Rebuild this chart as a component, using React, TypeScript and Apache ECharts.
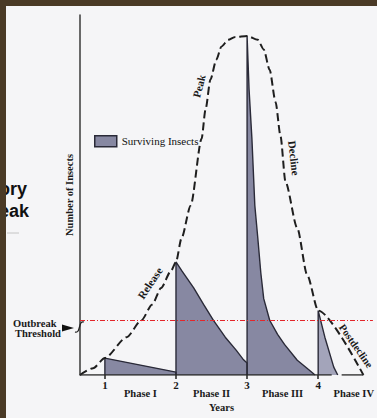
import React, { useEffect, useRef } from "react";
import * as echarts from "echarts";

// ---- data ----
const yearTicks = [1, 2, 3, 4];
const phaseCenters = [1.5, 2.5, 3.5, 4.5];
const phaseNames = ["Phase I", "Phase II", "Phase III", "Phase IV"];
const outbreakThreshold = 15.2;

// population trend (dashed curve): Release, Peak, Decline, Postdecline
const popX = [0.65, 0.834, 1.0, 1.306, 1.514, 1.666, 1.791, 1.93, 2.0, 2.078, 2.207, 2.36, 2.416, 2.485, 2.568, 2.638, 2.735, 2.832, 3.0, 3.151, 3.234, 3.317, 3.401, 3.47, 3.54, 3.706, 3.845, 4.0, 4.636];
const popY = [0, 1.9, 4.7, 10.5, 15.2, 19.6, 24.2, 28.9, 31.4, 38.0, 47.1, 65.6, 73.8, 82.1, 87.6, 91.2, 93.1, 93.9, 94.2, 93.1, 90.4, 84.8, 75.8, 66.4, 53.7, 40.8, 27.8, 17.9, 0];

// surviving insects, per phase
const phase1X = [1, 1, 2, 2];
const phase1Y = [0, 4.7, 0.8, 0];
const phase2X = [2, 2, 2.083, 2.249, 2.388, 2.527, 2.693, 2.846, 2.943, 3, 3];
const phase2Y = [0, 31.4, 28.9, 24.2, 19.6, 15.2, 10.5, 6.9, 4.4, 3.3, 0];
const phase3X = [3, 3, 3.028, 3.068, 3.109, 3.151, 3.193, 3.234, 3.318, 3.429, 3.526, 3.706, 3.873, 3.956];
const phase3Y = [0, 94.2, 79.3, 65.6, 47.1, 38.0, 28.4, 21.2, 15.2, 11.3, 8.5, 4.1, 1.4, 0];
const phase4X = [4, 4, 4.094, 4.219, 4.275];
const phase4Y = [0, 17.9, 10.5, 2.2, 0];

// baseline segments
const baseX = [0.65, 4.19, 4.26, 4.33, 4.636];
const baseY: (number | string)[] = [0, 0, "-", 0, 0];

const zip = (xs: number[], ys: (number | string)[]) => xs.map((x, i) => [x, ys[i]]);

export default function App() {
  const ref = useRef<HTMLDivElement>(null);
  useEffect(() => {
    document.body.style.margin = "0";
    const chart = echarts.init(ref.current!, null, { renderer: "svg" });
    const serif = "Liberation Serif";
    const ink = "#1a1a1a";
    const shadeFill = "#8788a2";
    const shade = (data: any[], color: string) => ({
      type: "line",
      name: "Surviving Insects",
      data,
      symbol: "none",
      showSymbol: false,
      smooth: false,
      silent: true,
      z: 2,
      lineStyle: { color: "#2a2a38", width: 1.4 },
      itemStyle: { color },
      areaStyle: { color, opacity: 1 },
    });
    const txt = (text: string, x: number, y: number, deg: number, size: number, align = "center") => ({
      type: "text",
      x,
      y,
      rotation: (deg * Math.PI) / 180,
      silent: true,
      z: 50,
      style: {
        text,
        fill: ink,
        fontFamily: serif,
        fontWeight: "bold",
        fontSize: size,
        align,
        textAlign: align,
        verticalAlign: "middle",
        textVerticalAlign: "middle",
      },
    });
    const option: any = {
      animation: false,
      backgroundColor: "#f5f5f7",
      grid: { left: 80, top: 15, width: 297, height: 363 },
      legend: {
        data: ["Surviving Insects"],
        left: 89,
        top: 130,
        icon: "rect",
        itemWidth: 22,
        itemHeight: 11,
        selectedMode: false,
        itemStyle: { color: shadeFill, borderColor: "#2a2a38", borderWidth: 1.5 },
        textStyle: { fontFamily: serif, fontSize: 11, color: "#111" },
      },
      xAxis: [
        {
          type: "value",
          min: 0.65,
          max: 4.77,
          axisLine: { show: false },
          splitLine: { show: false },
          axisTick: { show: true, customValues: yearTicks, length: 4, lineStyle: { color: "#222", width: 1.5 } },
          axisLabel: {
            customValues: yearTicks,
            margin: 4,
            fontFamily: serif,
            fontWeight: "bold",
            fontSize: 11,
            color: ink,
            formatter: (v: number) => String(v),
          },
          name: "Years",
          nameLocation: "middle",
          nameGap: 27,
          nameTextStyle: { fontFamily: serif, fontWeight: "bold", fontSize: 10.5, color: ink, padding: [0, 10, 0, 0] },
        },
        {
          type: "value",
          min: 0.65,
          max: 4.77,
          position: "bottom",
          axisLine: { show: false },
          axisTick: { show: false },
          splitLine: { show: false },
          axisLabel: {
            customValues: phaseCenters,
            margin: 13,
            fontFamily: serif,
            fontWeight: "bold",
            fontSize: 10.5,
            color: ink,
            formatter: (v: number) => phaseNames[Math.round(v - 1.5)] ?? "",
          },
        },
      ],
      yAxis: {
        type: "value",
        min: 0,
        max: 100,
        axisLine: { show: true, lineStyle: { color: "#3a3a3a", width: 1.5 } },
        axisTick: { show: false },
        axisLabel: { show: false },
        splitLine: { show: false },
        name: "Number of Insects",
        nameLocation: "middle",
        nameRotate: 90,
        nameGap: 5,
        nameTextStyle: { fontFamily: serif, fontWeight: "bold", fontSize: 10.5, color: ink },
      },
      series: [
        shade(zip(phase1X, phase1Y), shadeFill),
        shade(zip(phase2X, phase2Y), shadeFill),
        shade(zip(phase3X, phase3Y), shadeFill),
        shade(zip(phase4X, phase4Y), "#a3a4ba"),
        {
          type: "line",
          name: "Population",
          data: zip(popX, popY),
          symbol: "none",
          showSymbol: false,
          smooth: 0.25,
          smoothMonotone: "x",
          silent: true,
          z: 4,
          lineStyle: { color: "#1e1e1e", width: 2, type: [8, 4] },
        },
        {
          type: "line",
          name: "Baseline",
          data: zip(baseX, baseY),
          symbol: "none",
          showSymbol: false,
          silent: true,
          z: 4,
          lineStyle: { color: "#2a2a2a", width: 1.6 },
          markLine: {
            silent: true,
            symbol: ["none", "none"],
            label: { show: false },
            lineStyle: { color: "#e3262b", width: 1.2, type: [5, 2, 1, 2] },
            data: [{ yAxis: outbreakThreshold }],
          },
        },
      ],
      graphic: [
        txt("Release", 150, 283, 56, 11),
        txt("Peak", 199, 86, 76, 11),
        txt("Decline", 294, 158, -83, 11),
        txt("Postdecline", 356, 346, -55, 10.5),
        txt("Outbreak", 13, 323, 0, 10.5, "left"),
        txt("Threshold", 15, 333.5, 0, 10.5, "left"),
        {
          type: "polygon",
          silent: true,
          z: 50,
          shape: { points: [[62, 324.5], [74, 328], [62, 331.5]] },
          style: { fill: "#111" },
        },
        {
          type: "bezierCurve",
          silent: true,
          z: 50,
          shape: { x1: 75, y1: 332, x2: 84, y2: 322, cpx1: 81, cpy1: 334, cpx2: 78, cpy2: 320 },
          style: { stroke: "#222", lineWidth: 1.3, fill: "none" },
        },
        {
          type: "text",
          x: 27,
          y: 188.5,
          silent: true,
          z: 60,
          style: { text: "ory", fill: "#111", fontFamily: "Liberation Sans", fontWeight: "bold", fontSize: 18, align: "right", textAlign: "right", verticalAlign: "middle", textVerticalAlign: "middle" },
        },
        {
          type: "text",
          x: 29,
          y: 210.6,
          silent: true,
          z: 60,
          style: { text: "eak", fill: "#111", fontFamily: "Liberation Sans", fontWeight: "bold", fontSize: 18, align: "right", textAlign: "right", verticalAlign: "middle", textVerticalAlign: "middle" },
        },
        {
          type: "line",
          silent: true,
          z: 60,
          shape: { x1: 7, y1: 233, x2: 19, y2: 233 },
          style: { stroke: "#c4c4c4", lineWidth: 1 },
        },
        { type: "rect", silent: true, z: 100, shape: { x: 0, y: 0, width: 377, height: 6 }, style: { fill: "#4a3a26" } },
        { type: "rect", silent: true, z: 100, shape: { x: 0, y: 0, width: 6, height: 418 }, style: { fill: "#4a3a26" } },
      ],
    };
    chart.setOption(option);
    return () => chart.dispose();
  }, []);
  return <div ref={ref} style={{ width: 377, height: 418 }} />;
}
